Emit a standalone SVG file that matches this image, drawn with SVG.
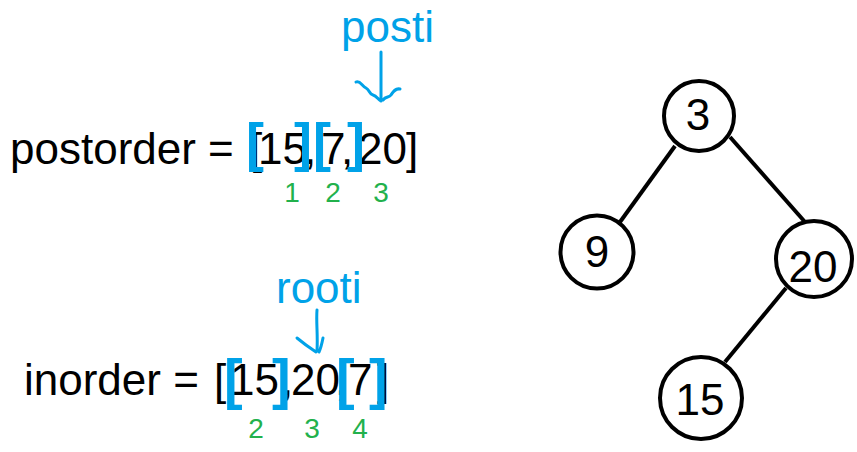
<svg xmlns="http://www.w3.org/2000/svg" width="857" height="452" viewBox="0 0 857 452">
<style>
.t{font-family:"Liberation Sans",Arial,sans-serif;font-size:44px;fill:#000}
.b{font-family:"Liberation Sans",Arial,sans-serif;font-weight:bold;fill:#00A2E8}
.lbl{font-family:"Liberation Sans",Arial,sans-serif;font-size:44px;fill:#00A2E8}
.g{font-family:"Liberation Sans",Arial,sans-serif;font-size:28px;fill:#22B14C;text-anchor:middle}
.node circle{fill:#fff;stroke:#000;stroke-width:4}
.node text{font-family:"Liberation Sans",Arial,sans-serif;font-size:44px;fill:#000;text-anchor:middle}
.edge{stroke:#000;stroke-width:4;fill:none}
.arr{stroke:#00A2E8;stroke-width:3;fill:none;stroke-linecap:round;stroke-linejoin:round}
</style>
<rect width="857" height="452" fill="#fff"/>
<g id="postorder">
<text class="t" y="164"><tspan x="10">postorder =</tspan><tspan x="250">[</tspan><tspan x="258">15</tspan><tspan x="304">,</tspan><tspan x="321">7</tspan><tspan x="341">,</tspan><tspan x="358">20</tspan><tspan x="406">]</tspan></text>
<text class="b" font-size="54" y="161"><tspan x="246">[</tspan><tspan x="294">]</tspan><tspan x="313">[</tspan><tspan x="347">]</tspan></text>
<text class="g" y="202"><tspan x="292">1</tspan><tspan x="333">2</tspan><tspan x="381">3</tspan></text>
</g>
<g id="posti">
<text class="lbl" x="341" y="42">posti</text>
<path class="arr" d="M381 52 L381 101 M356 82 C360 80 362 86 366 88 C370 90 369 94 373 95 C377 96 378 100 381 101 M400 89 C395 88 393 92 391 95 C389 98 386 96 383 100"/>
</g>
<g id="inorder">
<text class="t" y="395"><tspan x="24">inorder =</tspan><tspan x="214">[</tspan><tspan x="230">15</tspan><tspan x="281">,</tspan><tspan x="291">20</tspan><tspan x="335">,</tspan><tspan x="348">7</tspan><tspan x="377">]</tspan></text>
<text class="b" font-size="56" y="398"><tspan x="224">[</tspan><tspan x="272">]</tspan><tspan x="336">[</tspan><tspan x="369">]</tspan></text>
<text class="g" y="438"><tspan x="256">2</tspan><tspan x="312">3</tspan><tspan x="360">4</tspan></text>
</g>
<g id="rooti">
<text class="lbl" x="276" y="303">rooti</text>
<path class="arr" d="M317 310 C316 322 318 335 317 351 M297 338 C303 343 310 348 316 352 M323 338 C322 343 321 348 319 352"/>
</g>
<g id="connectors">
<line class="edge" x1="675" y1="146" x2="620" y2="222"/>
<line class="edge" x1="730" y1="137" x2="805" y2="222"/>
<line class="edge" x1="786" y1="288" x2="725" y2="362"/>
</g>
<g id="node-3" class="node"><circle cx="699" cy="116" r="35"/><text x="698" y="130">3</text></g>
<g id="node-9" class="node"><circle cx="597" cy="252" r="36.5"/><text x="597" y="267">9</text></g>
<g id="node-20" class="node"><circle cx="814" cy="259" r="38"/><text x="813" y="282">20</text></g>
<g id="node-15" class="node"><circle cx="701" cy="398" r="41"/><text x="700" y="415">15</text></g>
</svg>
